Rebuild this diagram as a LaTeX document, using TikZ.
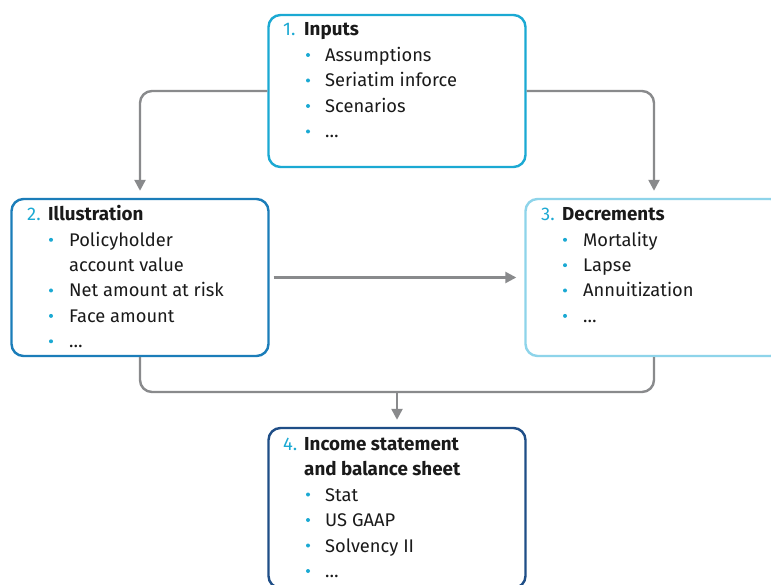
\documentclass[tikz,border=0pt]{standalone}
\usepackage{fontspec}
\setmainfont{Fira Sans}
\usetikzlibrary{arrows.meta}
\definecolor{cOne}{HTML}{1BA9D3}
\definecolor{cTwo}{HTML}{1B7DB9}
\definecolor{cThree}{HTML}{8ED4EA}
\definecolor{cFour}{HTML}{1F4E87}
\definecolor{cNum}{HTML}{1BA9D3}
\definecolor{cGray}{HTML}{898A8C}
\definecolor{cTxt}{HTML}{1A1A1A}
\begin{document}
\begin{tikzpicture}[x=1pt,y=-1pt,
  box/.style={draw, line width=2.4pt, rounded corners=12pt, minimum width=257pt, inner sep=0pt, fill=white},
  conn/.style={draw=cGray, line width=2.4pt, rounded corners=12pt},
  arr/.style={conn, -{Triangle[length=11pt,width=11pt]}, shorten >=7pt},
  txt/.style={anchor=base west, inner sep=0pt, text=cTxt, font=\fontsize{18.3}{22}\selectfont},
  num/.style={txt, text=cNum},
  ttl/.style={txt, font=\fontsize{18.8}{22}\selectfont\bfseries},
  dot/.style={circle, fill=cNum, inner sep=0pt, minimum size=4pt}
]
\clip (0,0) rectangle (771,585);
\fill[white] (0,0) rectangle (771,585);

% boxes
\node[box, draw=cOne, minimum height=152pt] (b1) at (397,91) {};
\node[box, draw=cTwo, minimum height=157pt] (b2) at (140,277.5) {};
\node[box, draw=cThree, minimum height=157pt] (b3) at (654,277.5) {};
\node[box, draw=cFour, minimum height=160pt] (b4) at (397,508) {};

% connectors
\draw[arr] (b1.west) -| (b2.north);
\draw[arr] (b1.east) -| (b3.north);
\draw[arr, shorten <=4pt, shorten >=8pt] (b2.east) -- (b3.west);
\coordinate (join) at (397,392);
\draw[conn] (b2.south) |- (join) -| (b3.south);
\draw[arr] (join) -- (b4.north);

% box 1
\node[num] (n1) at (283,36) {1.};
\node[ttl] (t1) at (304,36) {Inputs};
\node[dot] (d11) at (308,55) {}; \node[txt] (i11) at (325,61.5) {Assumptions};
\node[dot] (d12) at (308,80.5) {}; \node[txt] (i12) at (325,87) {Seriatim inforce};
\node[dot] (d13) at (308,106) {}; \node[txt] (i13) at (325,112.5) {Scenarios};
\node[dot] (d14) at (308,131.5) {}; \node[txt] (i14) at (325,138) {…};

% box 2
\node[num] (n2) at (27,220.7) {2.};
\node[ttl] (t2) at (48,220.7) {Illustration};
\node[dot] (d21) at (51,239.8) {}; \node[txt] (i21) at (69,246.3) {Policyholder};
\node[txt] (i21b) at (69,271.7) {account value};
\node[dot] (d22) at (51,290.5) {}; \node[txt] (i22) at (69,297) {Net amount at risk};
\node[dot] (d23) at (51,315.9) {}; \node[txt] (i23) at (69,322.4) {Face amount};
\node[dot] (d24) at (51,341.3) {}; \node[txt] (i24) at (69,347.8) {…};

% box 3
\node[num] (n3) at (541,220.7) {3.};
\node[ttl] (t3) at (562,220.7) {Decrements};
\node[dot] (d31) at (565,239.8) {}; \node[txt] (i31) at (583,246.3) {Mortality};
\node[dot] (d32) at (565,265.2) {}; \node[txt] (i32) at (583,271.7) {Lapse};
\node[dot] (d33) at (565,290.5) {}; \node[txt] (i33) at (583,297) {Annuitization};
\node[dot] (d34) at (565,315.9) {}; \node[txt] (i34) at (583,322.4) {…};

% box 4
\node[num] (n4) at (283,450) {4.};
\node[ttl] (t4) at (304,450) {Income statement};
\node[ttl] (t4b) at (304,475.5) {and balance sheet};
\node[dot] (d41) at (308,494.5) {}; \node[txt] (i41) at (325,501) {Stat};
\node[dot] (d42) at (308,520) {}; \node[txt] (i42) at (325,526.5) {US GAAP};
\node[dot] (d43) at (308,545.5) {}; \node[txt] (i43) at (325,552) {Solvency II};
\node[dot] (d44) at (308,571) {}; \node[txt] (i44) at (325,577.5) {…};
\end{tikzpicture}
\end{document}
